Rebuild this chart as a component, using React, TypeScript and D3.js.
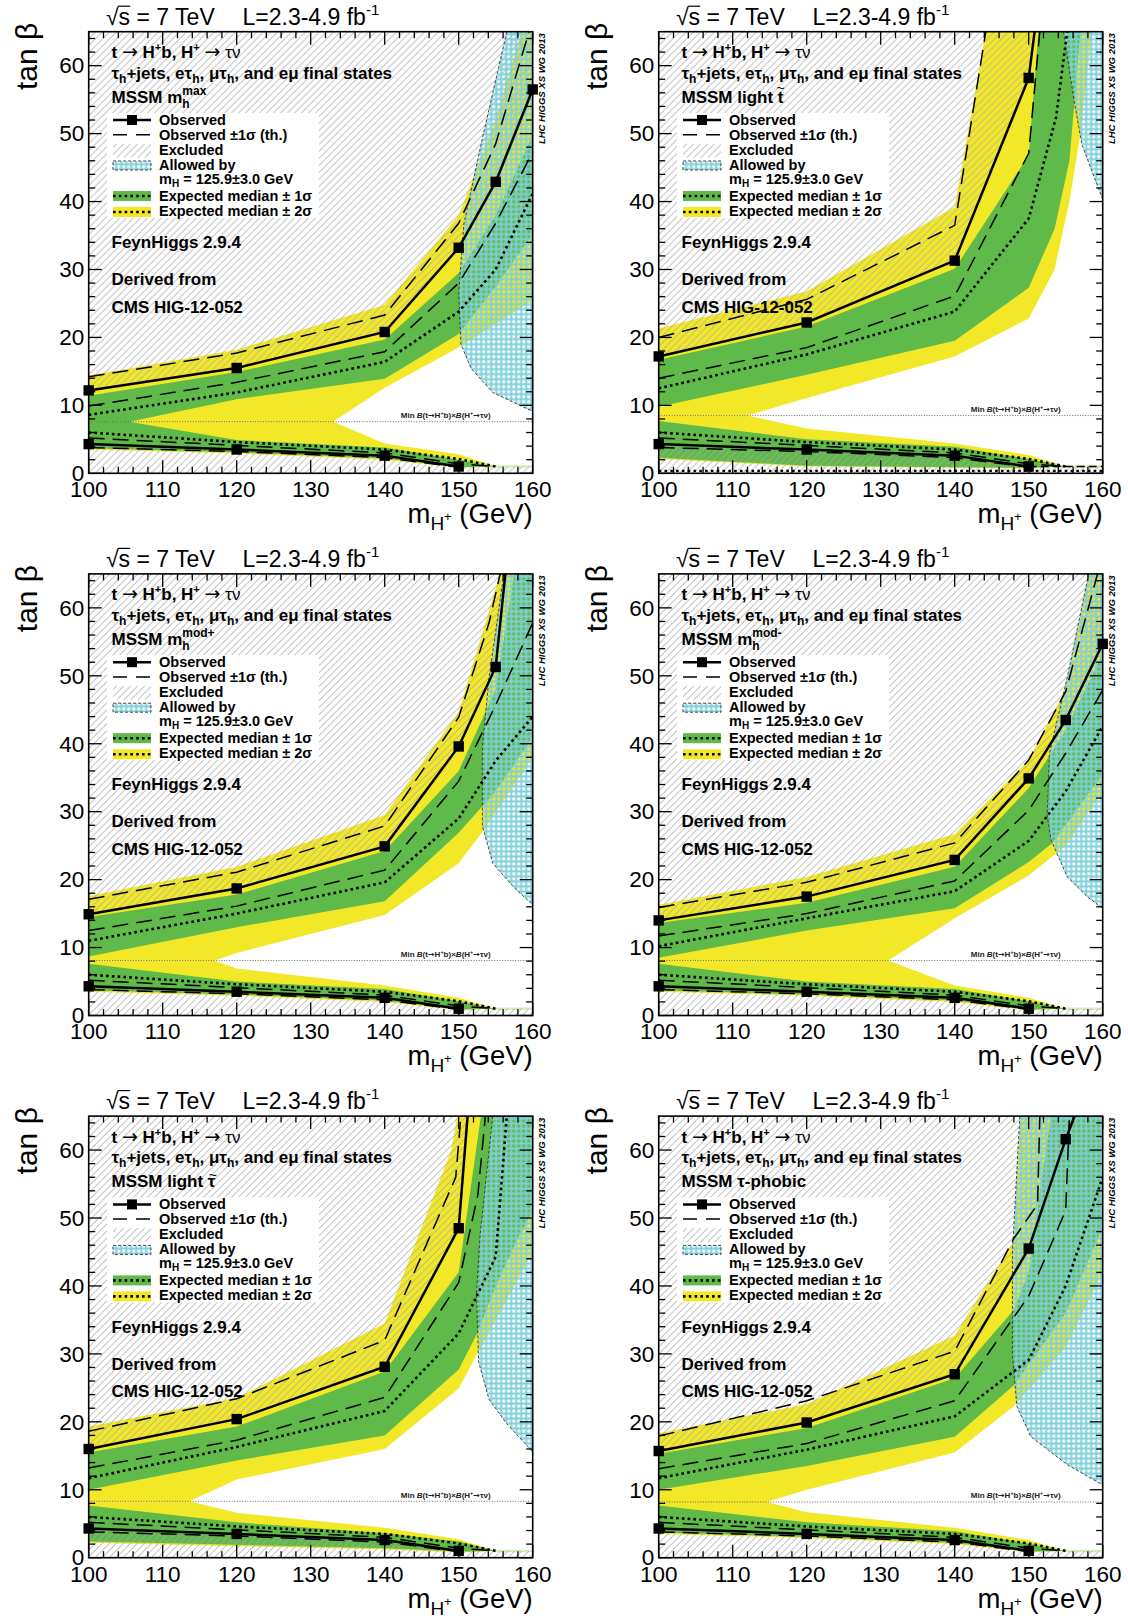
import React from 'react';
import * as d3 from 'd3';

type Pt = [number, number];

// ---------- shared lower-region curves ----------
const lowObs: Pt[] = [[100, 4.3], [120, 3.5], [140, 2.6], [150, 1.0]];
const lowObsUp: Pt[] = [[100, 5.2], [120, 4.1], [140, 3.0], [150, 1.4], [155, 1.0]];
const lowObsDn: Pt[] = [[100, 3.8], [120, 3.2], [140, 2.3], [150, 0.9]];
const lowExp: Pt[] = [[100, 6.0], [120, 4.6], [140, 3.5], [150, 2.1], [155, 1.0]];
const lowS1Bot: Pt[] = [[100, 3.7], [120, 3.1], [140, 2.2], [150, 0.9], [155, 1.0]];
const lowS2Bot: Pt[] = [[100, 3.5], [120, 2.9], [140, 2.0], [150, 0.8], [155, 1.0]];
const tailBand: Pt[] = [[155, 1.0], [160, 1.0]];

// ---------- MSSM mh max ----------
const mhmaxObs: Pt[] = [[100, 12.2], [120, 15.5], [140, 20.8], [150, 33.2], [155, 42.9], [160, 56.5]];
const mhmaxObsUp: Pt[] = [[100, 14.2], [120, 17.7], [140, 23.3], [150, 36.8], [155, 48.5], [159.5, 65]];
const mhmaxObsDn: Pt[] = [[100, 9.9], [120, 13.4], [140, 17.9], [150, 28.0], [155, 36.8], [160, 47.3]];
const mhmaxExp: Pt[] = [[100, 8.6], [120, 11.9], [140, 16.4], [150, 23.8], [155, 30.0], [160, 41.2]];
const mhmaxS1Top: Pt[] = [[100, 11.4], [120, 14.9], [140, 19.7], [150, 29.5], [155, 38.0], [160, 49.8]];
const mhmaxS1Bot: Pt[] = [[100, 7.6], [105.5, 7.6], [120, 10.9], [140, 13.9], [150, 20.5], [155, 27.5], [160, 35.2]];
const mhmaxS2Top: Pt[] = [[100, 14.4], [120, 18.2], [140, 24.8], [150, 38.0], [155, 52.0], [158.5, 65]];
const mhmaxS2Bot: Pt[] = [[100, 7.6], [133, 7.6], [140, 12.6], [150, 18.5], [155, 22.0], [160, 25.5]];
const mhmaxLowS1Top: Pt[] = [[100, 7.6], [105.5, 7.6], [120, 4.9], [140, 3.8], [150, 2.0], [155, 1.0]];
const mhmaxLowS2Top: Pt[] = [[100, 7.6], [133, 7.6], [140, 4.4], [150, 2.8], [155, 1.0]];
const mhmaxAllowed: Pt[] = [[156.5, 65], [153.2, 49.3], [150.7, 36.7], [150, 26.6], [150.3, 19], [151.7, 15.4], [154.6, 11.9], [160, 9.1], [160, 65]];

// ---------- MSSM light stop ----------
const stopObs: Pt[] = [[100, 17.2], [120, 22.2], [140, 31.3], [150, 58.2], [150.8, 65]];
const stopObsUp: Pt[] = [[100, 20.0], [120, 25.6], [140, 36.5], [144.2, 65]];
const stopObsDn: Pt[] = [[100, 14.0], [120, 18.5], [140, 26.1], [150, 47.1], [151.5, 65]];
const stopExp: Pt[] = [[100, 12.5], [120, 17.5], [140, 23.8], [150, 37.5], [153.7, 52.4], [155.2, 65]];
const stopS1Top: Pt[] = [[100, 16.7], [120, 21.6], [140, 30.1], [150, 46.8], [151.3, 65]];
const stopS1Bot: Pt[] = [[100, 9.8], [120, 14.5], [140, 19.5], [150, 27.3], [153.5, 36], [155.5, 46], [157, 65]];
const stopS2Top: Pt[] = [[100, 21.3], [120, 26.8], [140, 39.2], [144.2, 65]];
const stopS2Bot: Pt[] = [[100, 8.5], [112, 8.5], [120, 11.1], [140, 17.2], [150, 22.8], [153.5, 30], [155.5, 40], [157, 50], [158.5, 65]];
const stopLowS1Top: Pt[] = [[100, 7.7], [120, 5.0], [140, 3.9], [150, 2.1], [155, 1.0]];
const stopLowS2Top: Pt[] = [[100, 8.5], [112, 8.5], [120, 6.6], [140, 4.4], [150, 2.7], [155, 1.0]];
const stopLowS1Bot: Pt[] = [[100, 2.3], [120, 1.1], [140, 0.9], [150, 0.8], [155, 1.0]];
const stopLowS2Bot: Pt[] = [[100, 2.1], [120, 1.0], [140, 0.8], [150, 0.7], [155, 1.0]];
const stopAllowed: Pt[] = [[154.7, 65], [156.2, 54.4], [157.2, 48.4], [158.6, 44.3], [160, 40.3], [160, 65]];
const stopFloorDotted: Pt[] = [[100, 0.35], [160, 0.35]];
const stopTailDashed: Pt[] = [[150, 1.0], [160, 1.0]];

// ---------- MSSM mh mod+ ----------
const modpObs: Pt[] = [[100, 14.9], [120, 18.7], [140, 24.9], [150, 39.6], [155, 51.3], [156.3, 65]];
const modpObsUp: Pt[] = [[100, 17.1], [120, 21.1], [140, 27.9], [150, 43.9], [154.1, 57.8], [155.6, 65]];
const modpObsDn: Pt[] = [[100, 12.5], [120, 16.1], [140, 21.4], [150, 34.5], [155, 45.7], [160, 57.8]];
const modpExp: Pt[] = [[100, 11.0], [120, 15.0], [140, 19.6], [150, 29.0], [155, 37.5], [160, 44.0]];
const modpS1Top: Pt[] = [[100, 14.5], [120, 17.8], [140, 24.2], [150, 36.0], [155, 48.0], [157.5, 65]];
const modpS1Bot: Pt[] = [[100, 8.7], [120, 13.0], [140, 16.8], [150, 26.9], [155, 33.0], [160, 41.0]];
const modpS2Top: Pt[] = [[100, 17.6], [120, 21.9], [140, 29.5], [150, 44.7], [155.6, 65]];
const modpS2Bot: Pt[] = [[100, 8.1], [117, 8.1], [120, 9.2], [140, 14.8], [150, 22.4], [153.2, 27], [160, 38]];
const modpLowS1Top: Pt[] = [[100, 7.6], [120, 5.0], [140, 3.9], [150, 2.1], [155, 1.0]];
const modpLowS2Top: Pt[] = [[100, 8.1], [117, 8.1], [120, 6.9], [140, 4.4], [150, 2.6], [155, 1.0]];
const modpAllowed: Pt[] = [[156.1, 65], [154.1, 49.7], [153.2, 39.6], [153.2, 27.9], [154.6, 22.4], [157.5, 18.8], [160, 16.3], [160, 65]];

// ---------- MSSM mh mod- ----------
const modmObs: Pt[] = [[100, 14.0], [120, 17.5], [140, 22.9], [150, 34.9], [155, 43.5], [160, 54.7]];
const modmObsUp: Pt[] = [[100, 15.9], [120, 19.6], [140, 25.4], [150, 37.6], [155, 47.7], [159.3, 65]];
const modmObsDn: Pt[] = [[100, 11.7], [120, 15.0], [140, 19.8], [150, 30.2], [155, 38.6], [160, 47.9]];
const modmExp: Pt[] = [[100, 10.2], [120, 14.3], [140, 18.3], [150, 25.7], [155, 33.0], [160, 42.6]];
const modmS1Top: Pt[] = [[100, 13.6], [120, 16.6], [140, 21.9], [150, 33.5], [155, 42.0], [160, 53.3]];
const modmS1Bot: Pt[] = [[100, 8.5], [120, 12.5], [140, 15.8], [150, 22.6], [153.2, 25.4], [160, 35.5]];
const modmS2Top: Pt[] = [[100, 16.3], [120, 20.4], [140, 26.7], [150, 37.6], [155, 48.0], [158.1, 65]];
const modmS2Bot: Pt[] = [[100, 8.1], [131, 8.1], [140, 14.3], [150, 20.6], [155, 25.0], [160, 33.0]];
const modmLowS1Top: Pt[] = [[100, 7.6], [120, 5.0], [140, 3.9], [150, 2.1], [155, 1.0]];
const modmLowS2Top: Pt[] = [[100, 8.1], [131, 8.1], [140, 4.4], [150, 2.6], [155, 1.0]];
const modmAllowed: Pt[] = [[158.1, 65], [155.2, 49.7], [152.8, 38.6], [152.5, 29.5], [153, 25.9], [155.2, 20.4], [158.1, 17.3], [160, 15.8], [160, 65]];

// ---------- MSSM light stau ----------
const stauObs: Pt[] = [[100, 16.0], [120, 20.4], [140, 28.1], [150, 48.5], [151.2, 65]];
const stauObsUp: Pt[] = [[100, 18.6], [120, 23.4], [140, 32.0], [149.6, 56], [150.3, 65]];
const stauObsDn: Pt[] = [[100, 13.2], [120, 17.3], [140, 23.6], [150, 40.5], [152.6, 53.5], [153.6, 65]];
const stauExp: Pt[] = [[100, 11.7], [120, 16.3], [140, 21.6], [150, 33.0], [155, 44.3], [156.5, 65]];
const stauS1Top: Pt[] = [[100, 15.5], [120, 19.3], [140, 27.4], [150, 42.0], [153, 65]];
const stauS1Bot: Pt[] = [[100, 10.0], [120, 14.3], [140, 18.0], [150, 27.7], [152.5, 33], [155, 40], [158, 47], [160, 51]];
const stauS2Top: Pt[] = [[100, 19.3], [120, 23.5], [140, 34.5], [149, 60], [149.8, 65]];
const stauS2Bot: Pt[] = [[100, 8.3], [113.6, 8.3], [120, 11.5], [140, 16.0], [150, 24.9], [152.5, 30], [155, 35], [158, 41], [160, 45]];
const stauLowS1Top: Pt[] = [[100, 7.7], [120, 5.2], [140, 3.6], [150, 2.4], [155, 1.0]];
const stauLowS2Top: Pt[] = [[100, 8.3], [113.6, 8.3], [120, 6.6], [140, 4.4], [150, 2.7], [155, 1.0]];
const stauLowS1Bot: Pt[] = [[100, 2.4], [120, 1.9], [140, 1.4], [150, 0.9], [155, 1.0]];
const stauLowS2Bot: Pt[] = [[100, 2.2], [120, 1.7], [140, 1.2], [150, 0.8], [155, 1.0]];
const stauAllowed: Pt[] = [[154.6, 65], [152.9, 47.6], [152.4, 38.9], [152.7, 28.8], [154.1, 23.3], [156.5, 19.7], [160, 15.6], [160, 65]];

// ---------- MSSM tau-phobic ----------
const phobObs: Pt[] = [[100, 15.7], [120, 19.9], [140, 27.0], [150, 45.5], [155, 61.6], [156.2, 65]];
const phobObsUp: Pt[] = [[100, 17.9], [120, 23.1], [140, 30.4], [148, 47.0], [151.2, 52], [151.5, 65]];
const phobObsDn: Pt[] = [[100, 13.1], [120, 16.8], [140, 23.1], [150, 38.5], [155, 51.1], [155.5, 65]];
const phobExp: Pt[] = [[100, 11.7], [120, 15.9], [140, 20.8], [150, 29.1], [155, 40.0], [160, 56.0]];
const phobS1Top: Pt[] = [[100, 15.3], [120, 19.1], [140, 26.4], [148, 36.5], [150, 42.0], [153, 65]];
const phobS1Bot: Pt[] = [[100, 10.0], [120, 13.5], [140, 17.8], [148, 25.4], [155, 36.0], [160, 48.6]];
const phobS2Top: Pt[] = [[100, 18.3], [120, 22.6], [140, 32.7], [148, 46.6], [148.8, 65]];
const phobS2Bot: Pt[] = [[100, 8.2], [114.6, 8.2], [120, 10.0], [140, 15.5], [148, 22.3], [155, 31.0], [160, 42.0]];
const phobLowS1Top: Pt[] = [[100, 7.7], [120, 5.2], [140, 3.9], [150, 2.1], [155, 1.0]];
const phobLowS2Top: Pt[] = [[100, 8.2], [114.6, 8.2], [120, 6.7], [140, 4.4], [150, 2.6], [155, 1.0]];
const phobAllowed: Pt[] = [[148.8, 65], [147.8, 45], [147.8, 29.9], [148.4, 22.3], [150.3, 17.8], [155.2, 13.7], [160, 10.7], [160, 65]];

// ---------- per panel scalars ----------
const modelKinds = ['max', 'stop', 'mod+', 'mod-', 'stau', 'phobic'];
const minBRLevels = [7.6, 8.5, 8.1, 8.1, 8.3, 8.2];
const xTickLabels = ['100', '110', '120', '130', '140', '150', '160'];
const yTickLabels = ['0', '10', '20', '30', '40', '50', '60'];

const panels = [
  { kind: modelKinds[0], minBR: minBRLevels[0], obs: mhmaxObs, obsUp: mhmaxObsUp, obsDn: mhmaxObsDn, exp: mhmaxExp, s1Top: mhmaxS1Top, s1Bot: mhmaxS1Bot, s2Top: mhmaxS2Top, s2Bot: mhmaxS2Bot, lowS1Top: mhmaxLowS1Top, lowS2Top: mhmaxLowS2Top, lowS1Bot, lowS2Bot, allowed: mhmaxAllowed, extraDotted: null, extraDashed: null },
  { kind: modelKinds[1], minBR: minBRLevels[1], obs: stopObs, obsUp: stopObsUp, obsDn: stopObsDn, exp: stopExp, s1Top: stopS1Top, s1Bot: stopS1Bot, s2Top: stopS2Top, s2Bot: stopS2Bot, lowS1Top: stopLowS1Top, lowS2Top: stopLowS2Top, lowS1Bot: stopLowS1Bot, lowS2Bot: stopLowS2Bot, allowed: stopAllowed, extraDotted: stopFloorDotted, extraDashed: stopTailDashed },
  { kind: modelKinds[2], minBR: minBRLevels[2], obs: modpObs, obsUp: modpObsUp, obsDn: modpObsDn, exp: modpExp, s1Top: modpS1Top, s1Bot: modpS1Bot, s2Top: modpS2Top, s2Bot: modpS2Bot, lowS1Top: modpLowS1Top, lowS2Top: modpLowS2Top, lowS1Bot, lowS2Bot, allowed: modpAllowed, extraDotted: null, extraDashed: null },
  { kind: modelKinds[3], minBR: minBRLevels[3], obs: modmObs, obsUp: modmObsUp, obsDn: modmObsDn, exp: modmExp, s1Top: modmS1Top, s1Bot: modmS1Bot, s2Top: modmS2Top, s2Bot: modmS2Bot, lowS1Top: modmLowS1Top, lowS2Top: modmLowS2Top, lowS1Bot, lowS2Bot, allowed: modmAllowed, extraDotted: null, extraDashed: null },
  { kind: modelKinds[4], minBR: minBRLevels[4], obs: stauObs, obsUp: stauObsUp, obsDn: stauObsDn, exp: stauExp, s1Top: stauS1Top, s1Bot: stauS1Bot, s2Top: stauS2Top, s2Bot: stauS2Bot, lowS1Top: stauLowS1Top, lowS2Top: stauLowS2Top, lowS1Bot: stauLowS1Bot, lowS2Bot: stauLowS2Bot, allowed: stauAllowed, extraDotted: null, extraDashed: null },
  { kind: modelKinds[5], minBR: minBRLevels[5], obs: phobObs, obsUp: phobObsUp, obsDn: phobObsDn, exp: phobExp, s1Top: phobS1Top, s1Bot: phobS1Bot, s2Top: phobS2Top, s2Bot: phobS2Bot, lowS1Top: phobLowS1Top, lowS2Top: phobLowS2Top, lowS1Bot, lowS2Bot, allowed: phobAllowed, extraDotted: null, extraDashed: null },
];

const FONT = "'Liberation Sans', Arial, Helvetica, sans-serif";
const ARROWFONT = "'DejaVu Sans', 'Liberation Sans', sans-serif";
const YELLOW = '#f3e827';
const GREEN = '#5fba49';
const PW = 444;
const PH = 441.6;

const xMajor = d3.range(100, 161, 10);
const xMinor = d3.range(100, 161, 2).filter((v) => v % 10 !== 0);
const yMajor = d3.range(0, 61, 10);
const yMinor = d3.range(0, 66, 2).filter((v) => v % 10 !== 0);

function ModelTitle({ kind, bx, by }: { kind: string; bx: number; by: number }) {
  if (kind === 'max' || kind === 'mod+' || kind === 'mod-') {
    return (
      <g>
        <text x={bx} y={by}>MSSM m</text>
        <text x={bx + 70.8} y={by - 8} fontSize={12}>{kind}</text>
        <text x={bx + 70.8} y={by + 5} fontSize={12}>h</text>
      </g>
    );
  }
  if (kind === 'stop') {
    return (
      <g>
        <text x={bx} y={by}>MSSM light t</text>
        <text x={bx + 99.2} y={by - 9.5} fontSize={14} textAnchor="middle" fontWeight="normal">~</text>
      </g>
    );
  }
  if (kind === 'stau') {
    return (
      <g>
        <text x={bx} y={by}>MSSM light τ</text>
        <text x={bx + 101.3} y={by - 7} fontSize={14} textAnchor="middle" fontWeight="normal">~</text>
      </g>
    );
  }
  return <text x={bx} y={by}>MSSM τ-phobic</text>;
}

function Panel({ d, col, row, idx }: any) {
  const left = 88.7 + col * 570;
  const top = 31.7 + row * 542.2;
  const x = d3.scaleLinear().domain([100, 160]).range([0, PW]);
  const y = d3.scaleLinear().domain([0, 65]).range([PH, 0]);
  const line = d3.line<Pt>().x((p) => x(p[0])).y((p) => y(p[1]));
  const bandHi = (a: Pt[], b: Pt[]) => line([...a, [160, 65] as Pt, ...[...b].reverse()]) + 'Z';
  const bandLo = (a: Pt[], b: Pt[]) => line([...a, ...[...b].reverse()]) + 'Z';
  const last = d.obs[d.obs.length - 1];
  const exclHi: Pt[] = [...d.obs, [last[0], 65], [100, 65]];
  const exclLo: Pt[] = [[100, 0], ...lowObs, ...tailBand, [160, 0]];
  const clipId = `plotclip${idx}`;
  const marks: Pt[] = [...d.obs, ...lowObs].filter((p: Pt) => p[1] < 65);
  const mY = y(d.minBR);
  const bx = 22.8;
  const lx0 = 24.3;
  const lx1 = 62.3;
  const tx = 70.3;
  const dash = '16 8';
  const dot = '2.6 3.2';
  return (
    <g transform={`translate(${left},${top})`} fontFamily={FONT}>
      <defs>
        <clipPath id={clipId}>
          <rect x={0} y={0} width={PW} height={PH} />
        </clipPath>
      </defs>
      <rect x={0} y={0} width={PW} height={PH} fill="#fff" />
      <g clipPath={`url(#${clipId})`}>
        <path d={bandHi(d.s2Top, d.s2Bot)} fill={YELLOW} />
        <path d={bandLo(d.lowS2Top, d.lowS2Bot)} fill={YELLOW} />
        <path d={bandHi(d.s1Top, d.s1Bot)} fill={GREEN} />
        <path d={bandLo(d.lowS1Top, d.lowS1Bot)} fill={GREEN} />
        <path d={line(tailBand) || ''} fill="none" stroke="#d6edbb" strokeWidth={2.5} />
        <path d={line(exclHi) + 'Z'} fill="url(#hatch)" />
        <path d={line(exclLo) + 'Z'} fill="url(#hatch)" />
        <path d={line(d.allowed) + 'Z'} fill="url(#allowedPat)" />
        <path d={line(d.allowed.slice(0, -1)) || ''} fill="none" stroke="#333" strokeWidth={0.9} strokeDasharray="3 2" />
        <line x1={0} x2={PW} y1={mY} y2={mY} stroke="#444" strokeWidth={0.8} strokeDasharray="1 1.6" />
        {d.extraDotted && <path d={line(d.extraDotted) || ''} fill="none" stroke="#000" strokeWidth={2.2} strokeDasharray={dot} />}
        {d.extraDashed && <path d={line(d.extraDashed) || ''} fill="none" stroke="#000" strokeWidth={1.6} strokeDasharray="8 4" />}
        <path d={line(d.obsUp) || ''} fill="none" stroke="#000" strokeWidth={1.5} strokeDasharray={dash} />
        <path d={line(d.obsDn) || ''} fill="none" stroke="#000" strokeWidth={1.5} strokeDasharray={dash} />
        <path d={line(lowObsUp) || ''} fill="none" stroke="#000" strokeWidth={1.5} strokeDasharray={dash} />
        <path d={line(lowObsDn) || ''} fill="none" stroke="#000" strokeWidth={1.5} strokeDasharray={dash} />
        <path d={line(d.exp) || ''} fill="none" stroke="#000" strokeWidth={2.6} strokeDasharray={dot} />
        <path d={line(lowExp) || ''} fill="none" stroke="#000" strokeWidth={2.6} strokeDasharray={dot} />
        <path d={line(d.obs) || ''} fill="none" stroke="#000" strokeWidth={2.5} />
        <path d={line(lowObs) || ''} fill="none" stroke="#000" strokeWidth={2.5} />
      </g>
      {marks.map((p, i) => (
        <rect key={i} x={x(p[0]) - 5.2} y={y(p[1]) - 5.2} width={10.4} height={10.4} fill="#000" />
      ))}
      <text x={PW - 42} y={mY - 3.5} textAnchor="end" fontSize={8} fontWeight="bold" fill="#222">
        Min <tspan fontStyle="italic">B</tspan>(t<tspan fontFamily={ARROWFONT}>→</tspan>H<tspan fontSize={5.5} dy={-3}>+</tspan><tspan dy={3}>b)×</tspan><tspan fontStyle="italic">B</tspan>(H<tspan fontSize={5.5} dy={-3}>+</tspan><tspan dy={3} fontFamily={ARROWFONT}>→</tspan><tspan>τν)</tspan>
      </text>

      {/* header text */}
      <g fontWeight="bold" fontSize={17} fill="#000">
        <text x={bx} y={26.5}>
          t <tspan fontWeight="normal" fontFamily={ARROWFONT} fontSize={19}>→</tspan> H<tspan fontSize={11} dy={-7}>+</tspan><tspan dy={7}>b, H</tspan><tspan fontSize={11} dy={-7}>+</tspan><tspan dy={7}> </tspan><tspan fontWeight="normal" fontFamily={ARROWFONT} fontSize={19}>→</tspan><tspan fontWeight="normal"> τν</tspan>
        </text>
        <text x={bx} y={47}>
          τ<tspan fontSize={12} dy={4}>h</tspan><tspan dy={-4}>+jets, eτ</tspan><tspan fontSize={12} dy={4}>h</tspan><tspan dy={-4}>, μτ</tspan><tspan fontSize={12} dy={4}>h</tspan><tspan dy={-4}>, and eμ final states</tspan>
        </text>
        <ModelTitle kind={d.kind} bx={bx} by={71} />
        <text x={bx} y={216.5}>FeynHiggs 2.9.4</text>
        <text x={bx} y={253.5}>Derived from</text>
        <text x={bx} y={281}>CMS HIG-12-052</text>
      </g>

      {/* legend */}
      <rect x={18.3} y={81.3} width={212} height={105} fill="#fff" />
      <line x1={lx0} x2={lx1} y1={88.3} y2={88.3} stroke="#000" strokeWidth={2.5} />
      <rect x={(lx0 + lx1) / 2 - 5} y={83.3} width={10} height={10} fill="#000" />
      <line x1={lx0} x2={lx1} y1={103} y2={103} stroke="#000" strokeWidth={1.5} strokeDasharray="14 9" />
      <rect x={lx0} y={112} width={lx1 - lx0} height={14} fill="url(#hatch)" />
      <rect x={lx0} y={129.3} width={lx1 - lx0} height={9} fill="url(#allowedPat)" stroke="#333" strokeWidth={0.9} strokeDasharray="3 2" />
      <rect x={lx0} y={159.3} width={lx1 - lx0} height={10} fill={GREEN} />
      <line x1={lx0} x2={lx1} y1={164.3} y2={164.3} stroke="#000" strokeWidth={2.6} strokeDasharray={dot} />
      <rect x={lx0} y={175.3} width={lx1 - lx0} height={10} fill={YELLOW} />
      <line x1={lx0} x2={lx1} y1={180.3} y2={180.3} stroke="#000" strokeWidth={2.6} strokeDasharray={dot} />
      <g fontWeight="bold" fontSize={14.5} fill="#000">
        <text x={tx} y={93.3}>Observed</text>
        <text x={tx} y={108.3}>Observed ±1σ (th.)</text>
        <text x={tx} y={123.3}>Excluded</text>
        <text x={tx} y={138.3}>Allowed by</text>
        <text x={tx} y={152.3}>m<tspan fontSize={10} dy={3}>H</tspan><tspan dy={-3}> = 125.9±3.0 GeV</tspan></text>
        <text x={tx} y={169.3}>Expected median ± 1σ</text>
        <text x={tx} y={184.3}>Expected median ± 2σ</text>
      </g>

      {/* frame and ticks */}
      <rect x={0} y={0} width={PW} height={PH} fill="none" stroke="#000" strokeWidth={1.6} />
      <g stroke="#000" strokeWidth={1.3}>
        {xMajor.map((v) => (
          <g key={'xM' + v}>
            <line x1={x(v)} x2={x(v)} y1={PH} y2={PH - 13} />
            <line x1={x(v)} x2={x(v)} y1={0} y2={13} />
          </g>
        ))}
        {xMinor.map((v) => (
          <g key={'xm' + v}>
            <line x1={x(v)} x2={x(v)} y1={PH} y2={PH - 6.5} />
            <line x1={x(v)} x2={x(v)} y1={0} y2={6.5} />
          </g>
        ))}
        {yMajor.map((v) => (
          <g key={'yM' + v}>
            <line x1={0} x2={13} y1={y(v)} y2={y(v)} />
            <line x1={PW} x2={PW - 13} y1={y(v)} y2={y(v)} />
          </g>
        ))}
        {yMinor.map((v) => (
          <g key={'ym' + v}>
            <line x1={0} x2={6.5} y1={y(v)} y2={y(v)} />
            <line x1={PW} x2={PW - 6.5} y1={y(v)} y2={y(v)} />
          </g>
        ))}
      </g>
      <g fontSize={22.5} fill="#000">
        {xMajor.map((v, i) => (
          <text key={'xl' + v} x={x(v)} y={PH + 24} textAnchor="middle">{xTickLabels[i]}</text>
        ))}
        {yMajor.map((v, i) => (
          <text key={'yl' + v} x={-4.4} y={y(v) + 7.8} textAnchor="end">{yTickLabels[i]}</text>
        ))}
      </g>
      <text x={PW} y={PH + 50} textAnchor="end" fontSize={27.5}>
        m<tspan fontSize={19} dy={7}>H</tspan><tspan fontSize={13} dy={-9}>+</tspan><tspan dy={2} fontSize={27.5}> (GeV)</tspan>
      </text>
      <text transform={`translate(-51.5,-9) rotate(-90)`} textAnchor="end" fontSize={30}>tan β</text>
      <text transform={`translate(${PW + 12.3},1.5) rotate(-90)`} textAnchor="end" fontSize={9.5} fontWeight="bold" fontStyle="italic">LHC HIGGS XS WG 2013</text>
      <text x={17.3} y={-7} fontSize={23}>√s = 7 TeV</text>
      <line x1={29} x2={41.5} y1={-25.5} y2={-25.5} stroke="#000" strokeWidth={1.2} />
      <text x={153.8} y={-7} fontSize={23}>L=2.3-4.9 fb<tspan fontSize={15} dy={-10}>-1</tspan></text>
    </g>
  );
}

export default function App() {
  return (
    <svg width={1128} height={1618} viewBox="0 0 1128 1618" style={{ position: 'absolute', left: 0, top: 0, background: '#fff' }}>
      <defs>
        <pattern id="hatch" patternUnits="userSpaceOnUse" width={7} height={7}>
          <path d="M-1,1 L1,-1 M0,7 L7,0 M6,8 L8,6" stroke="#a9a9a9" strokeWidth={1} />
        </pattern>
        <pattern id="allowedPat" patternUnits="userSpaceOnUse" width={5} height={5}>
          <path d="M0,2.5 H5 M2.5,0 V5" stroke="#7fcfda" strokeWidth={2} />
        </pattern>
      </defs>
      <rect width={1128} height={1618} fill="#fff" />
      {panels.map((p, i) => (
        <Panel key={i} d={p} col={i % 2} row={Math.floor(i / 2)} idx={i} />
      ))}
    </svg>
  );
}
